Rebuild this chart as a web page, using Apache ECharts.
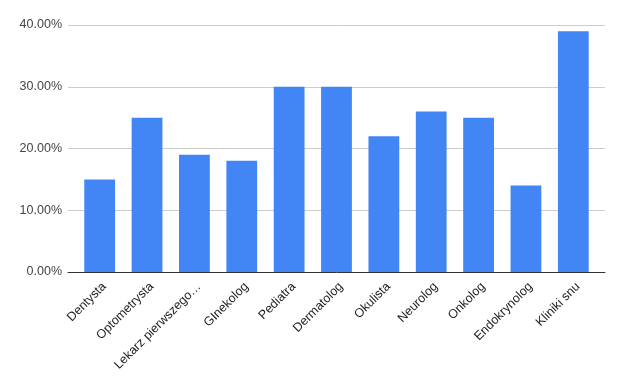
<!DOCTYPE html>
<html><head><meta charset="utf-8">
<script src="https://cdn.jsdelivr.net/npm/echarts@6/dist/echarts.min.js"></script>
<style>html,body{margin:0;padding:0;background:#fff}#c{width:624px;height:385px}</style>
</head><body><div id="c"></div>
<script>
const categories = ["Dentysta","Optometrysta","Lekarz pierwszego kontaktu","GInekolog","Pediatra","Dermatolog","Okulista","Neurolog","Onkolog","Endokrynolog","Kliniki snu"];
const values = [0.15,0.25,0.19,0.18,0.30,0.30,0.22,0.26,0.25,0.14,0.39];
const yTicks = [0,0.1,0.2,0.3,0.4];

const font = 'Liberation Sans, Arial';
const shorten = s => s.length > 18 ? s.slice(0, 17).trimEnd() + '…' : s;
const chart = echarts.init(document.getElementById('c'), null, {renderer:'canvas'});
chart.setOption({
  animation:false,
  grid:[
    {left:68,right:19,top:25,bottom:113},
    {left:76,right:27,top:25,bottom:113}
  ],
  xAxis:[
    {gridIndex:0,type:'value',min:0,max:1,
      axisLine:{show:true,lineStyle:{color:'#333',width:1}},
      axisTick:{show:false},axisLabel:{show:false},splitLine:{show:false}},
    {gridIndex:1,type:'category',data:categories,
      axisLine:{show:false},axisTick:{show:false},
      axisLabel:{rotate:45,color:'#222',fontFamily:font,fontSize:12.5,margin:8,interval:0,
        verticalAlign:'top',formatter:shorten}}
  ],
  yAxis:[
    {gridIndex:0,type:'value',min:yTicks[0],max:yTicks[yTicks.length-1],interval:0.1,
      axisLine:{show:false},axisTick:{show:false},
      splitLine:{lineStyle:{color:'#cccccc',width:1}},
      axisLabel:{color:'#444',fontFamily:font,fontSize:12.5,margin:6,
        formatter:v=>(v*100).toFixed(2)+'%'}},
    {gridIndex:1,type:'value',min:yTicks[0],max:yTicks[yTicks.length-1],interval:0.1,show:false}
  ],
  series:[{type:'bar',xAxisIndex:1,yAxisIndex:1,data:values,barWidth:'65%',itemStyle:{color:'#4285F4'},z:3}]
});
</script></body></html>
